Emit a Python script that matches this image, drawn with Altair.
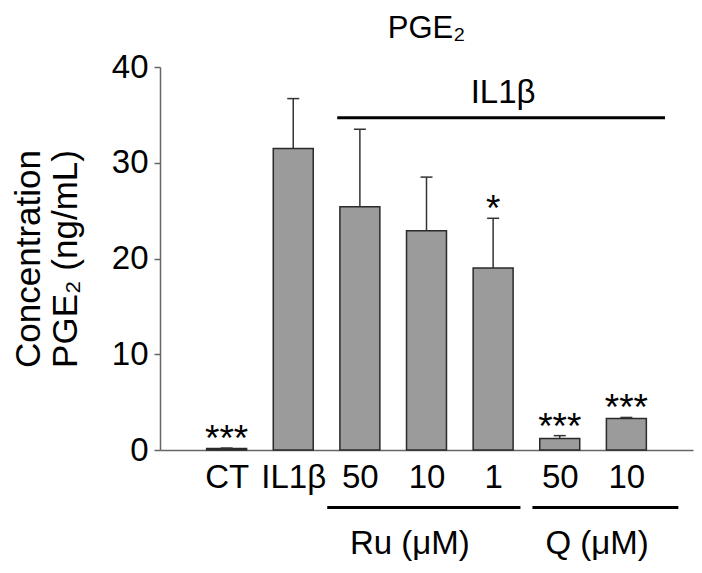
import json
import altair as alt
import pandas as pd

# ---- data ----
groups = ["CT", "IL1β", "Ru 50", "Ru 10", "Ru 1", "Q 50", "Q 10"]
tick_labels = ["CT", "IL1β", "50", "10", "1", "50", "10"]
means = [0.15, 31.5, 25.4, 22.9, 19.0, 1.2, 3.3]
errors = [0.05, 5.2, 8.1, 5.6, 5.2, 0.3, 0.1]
stars = ["***", "", "", "", "*", "***", "***"]

# annotation brackets / labels (in data coordinates)
ann_line_x = [2.66, 2.51, 5.59]
ann_line_x2 = [7.58, 5.41, 7.78]
ann_line_y = [34.7, -6.0, -6.0]
ann_text = ["IL1β", "Ru (μM)", "Q (μM)"]
ann_text_x = [5.15, 3.75, 6.56]
ann_text_y = [36.2, -10.9, -10.9]

FONT = "Liberation Sans"
W, H = 533, 383

pos = list(range(1, len(groups) + 1))
df = pd.DataFrame({
    "group": groups,
    "pos": pos,
    "mean": means,
    "err": errors,
    "star": stars,
})
df["upper"] = df["mean"] + df["err"]
df["x0"] = df["pos"] - 0.3
df["x1"] = df["pos"] + 0.3
df["cl"] = df["pos"] - 0.09
df["cr"] = df["pos"] + 0.09
df["zero"] = 0.0

lines_df = pd.DataFrame({"x": ann_line_x, "x2": ann_line_x2, "y": ann_line_y})
text_df = pd.DataFrame({"x": ann_text_x, "y": ann_text_y, "t": ann_text})

xs = alt.Scale(domain=[0, 8], nice=False, zero=False)
ys = alt.Scale(domain=[0, 40], nice=False)

label_expr = json.dumps(tick_labels, ensure_ascii=False) + "[datum.value - 1]"

base = alt.Chart(df)

bars = base.mark_bar(color="#9b9b9b", stroke="#2a2a2a", strokeWidth=1.5).encode(
    x=alt.X("x0:Q", scale=xs, axis=alt.Axis(
        values=pos, labelExpr=label_expr, ticks=False, grid=False, title=None,
        labelFontSize=33, labelFont=FONT, labelColor="black", labelPadding=11,
        labelFlush=False, labelOverlap=False, domainColor="#666666", domainWidth=1.5)),
    x2="x1:Q",
    y=alt.Y("mean:Q", scale=ys, axis=alt.Axis(
        values=[0, 10, 20, 30, 40], grid=False, tickSize=6, tickColor="#666666",
        tickWidth=1.5, domainColor="#666666", domainWidth=1.5,
        labelFontSize=33, labelFont=FONT, labelColor="black", labelPadding=6,
        title=["Concentration", "PGE₂ (ng/mL)"], titleFont=FONT, titleFontSize=35,
        titleFontWeight="normal", titleColor="black", titlePadding=28)),
    y2="zero:Q",
)

err_rule = base.mark_rule(color="#333333", strokeWidth=1.5).encode(
    x="pos:Q", y="mean:Q", y2="upper:Q")
caps = base.mark_rule(color="#333333", strokeWidth=1.5).encode(
    x="cl:Q", x2="cr:Q", y="upper:Q")
star_text = base.mark_text(font=FONT, fontSize=37, baseline="alphabetic", dy=3,
                           color="black").encode(x="pos:Q", y="upper:Q", text="star:N")

ann_lines = alt.Chart(lines_df).mark_rule(color="black", strokeWidth=3).encode(
    x="x:Q", x2="x2:Q", y="y:Q")
ann_texts = alt.Chart(text_df).mark_text(font=FONT, fontSize=33, baseline="alphabetic",
                                         color="black").encode(x="x:Q", y="y:Q", text="t:N")

chart = alt.layer(bars, err_rule, caps, star_text, ann_lines, ann_texts).properties(
    width=W, height=H,
    title=alt.TitleParams("PGE₂", font=FONT, fontSize=31, fontWeight="normal",
                          anchor="middle", color="black", offset=6),
    autosize=alt.AutoSizeParams(type="none"),
    padding={"left": 152, "top": 59, "right": 1, "bottom": 115},
).configure_view(stroke=None)

chart.save("out.html", embed_options={"renderer": "svg", "actions": False})
